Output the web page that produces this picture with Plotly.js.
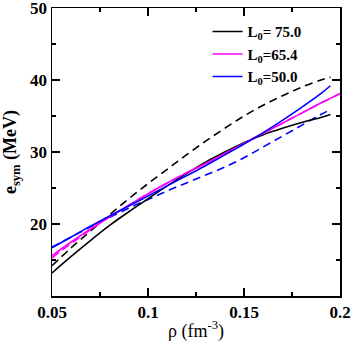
<!DOCTYPE html>
<html>
<head>
<meta charset="utf-8">
<script src="https://cdn.plot.ly/plotly-3.0.1.min.js"></script>
<style>
  body { margin: 0; background: #fff; }
  #plot { width: 353px; height: 344px; }
</style>
</head>
<body>
<div id="plot"></div>
<script>
// density grid (fm^-3)
let rho = [0.05, 0.06, 0.07, 0.08, 0.09, 0.10, 0.11, 0.12, 0.13, 0.14, 0.15, 0.16, 0.17, 0.18, 0.19, 0.195]
let rhoMagenta = [0.05, 0.06, 0.07, 0.08, 0.09, 0.10, 0.11, 0.12, 0.13, 0.14, 0.15, 0.16, 0.17, 0.18, 0.19, 0.20]

// symmetry energy (MeV)
let black = [13.2, 15.5, 17.7, 19.8, 21.7, 23.5, 25.3, 27.0, 28.6, 30.0, 31.3, 32.4, 33.3, 34.1, 34.8, 35.2]
let blackDash = [14.2, 16.7, 19.0, 21.3, 23.5, 25.6, 27.6, 29.6, 31.5, 33.3, 35.0, 36.5, 37.8, 39.0, 40.0, 40.4]
let magenta = [15.6, 17.5, 19.3, 21.0, 22.6, 24.2, 25.7, 27.1, 28.4, 29.8, 31.2, 32.6, 34.0, 35.4, 36.8, 38.1]
let magentaDash = [15.3, 17.3, 19.2, 21.0, 22.6, 24.2, 25.7, 27.1, 28.4, 29.8, 31.2, 32.6, 34.0, 35.4, 36.8, 38.1]
let blue = [16.7, 18.2, 19.7, 21.1, 22.5, 23.9, 25.3, 26.7, 28.1, 29.6, 31.1, 32.7, 34.4, 36.2, 38.1, 39.2]
let blueDash = [16.8, 18.2, 19.6, 20.9, 22.2, 23.4, 24.6, 25.7, 26.8, 27.9, 29.2, 30.7, 32.2, 33.7, 35.2, 35.9]

let names = ["L<sub>0</sub>= 75.0", "L<sub>0</sub>=65.4", "L<sub>0</sub>=50.0"]

let dashStyle = "8px,5px"

let data = [
  {x: rho, y: blackDash, mode: "lines", line: {color: "#000000", width: 1.6, dash: dashStyle, shape: "spline"}, showlegend: false},
  {x: rhoMagenta, y: magentaDash, mode: "lines", line: {color: "#ff00ff", width: 1.6, dash: dashStyle, shape: "spline"}, showlegend: false},
  {x: rho, y: blueDash, mode: "lines", line: {color: "#0000ff", width: 1.6, dash: dashStyle, shape: "spline"}, showlegend: false},
  {x: rho, y: black, mode: "lines", name: names[0], line: {color: "#000000", width: 1.6, shape: "spline"}},
  {x: rhoMagenta, y: magenta, mode: "lines", name: names[1], line: {color: "#ff00ff", width: 1.6, shape: "spline"}},
  {x: rho, y: blue, mode: "lines", name: names[2], line: {color: "#0000ff", width: 1.6, shape: "spline"}}
]

let tickFont = {family: "Liberation Serif", size: 17, color: "#000"}

let layout = {
  width: 353,
  height: 344,
  margin: {l: 52, r: 13, t: 8, b: 48},
  paper_bgcolor: "#fff",
  plot_bgcolor: "#fff",
  showlegend: true,
  legend: {
    x: 0.54, y: 0.975, xanchor: "left", yanchor: "top",
    bgcolor: "rgba(0,0,0,0)",
    font: {family: "Liberation Serif", size: 15, color: "#000", weight: "bold"},
    tracegroupgap: 0,
    traceorder: "normal"
  },
  xaxis: {
    range: [0.05, 0.2],
    tickvals: [0.05, 0.1, 0.15, 0.2],
    ticktext: ["<b>0.05</b>", "<b>0.1</b>", "<b>0.15</b>", "<b>0.2</b>"],
    ticks: "inside", ticklen: 8, tickwidth: 1.2, tickcolor: "#000",
    minor: {tickvals: [0.075, 0.125, 0.175], ticks: "inside", ticklen: 4, tickwidth: 1.2, tickcolor: "#000"},
    mirror: "allticks",
    showline: true, linecolor: "#000", linewidth: 1.5,
    showgrid: false, zeroline: false,
    ticklabeloverflow: "allow",
    tickfont: tickFont,
    title: {text: "ρ (fm<sup>-3</sup>)", font: {family: "Liberation Serif", size: 18, color: "#000"}, standoff: 3}
  },
  yaxis: {
    range: [10, 50],
    tickvals: [20, 30, 40, 50],
    ticktext: ["<b>20</b>", "<b>30</b>", "<b>40</b>", "<b>50</b>"],
    ticks: "inside", ticklen: 8, tickwidth: 1.2, tickcolor: "#000",
    minor: {tickvals: [15, 25, 35, 45], ticks: "inside", ticklen: 4, tickwidth: 1.2, tickcolor: "#000"},
    mirror: "allticks",
    showline: true, linecolor: "#000", linewidth: 1.5,
    showgrid: false, zeroline: false,
    ticklabeloverflow: "allow",
    tickfont: tickFont,
    title: {text: "<b>e<sub>sym</sub> (MeV)</b>", font: {family: "Liberation Serif", size: 18, color: "#000"}, standoff: 10}
  }
}

Plotly.newPlot("plot", data, layout, {displayModeBar: false, staticPlot: true})
</script>
</body>
</html>
